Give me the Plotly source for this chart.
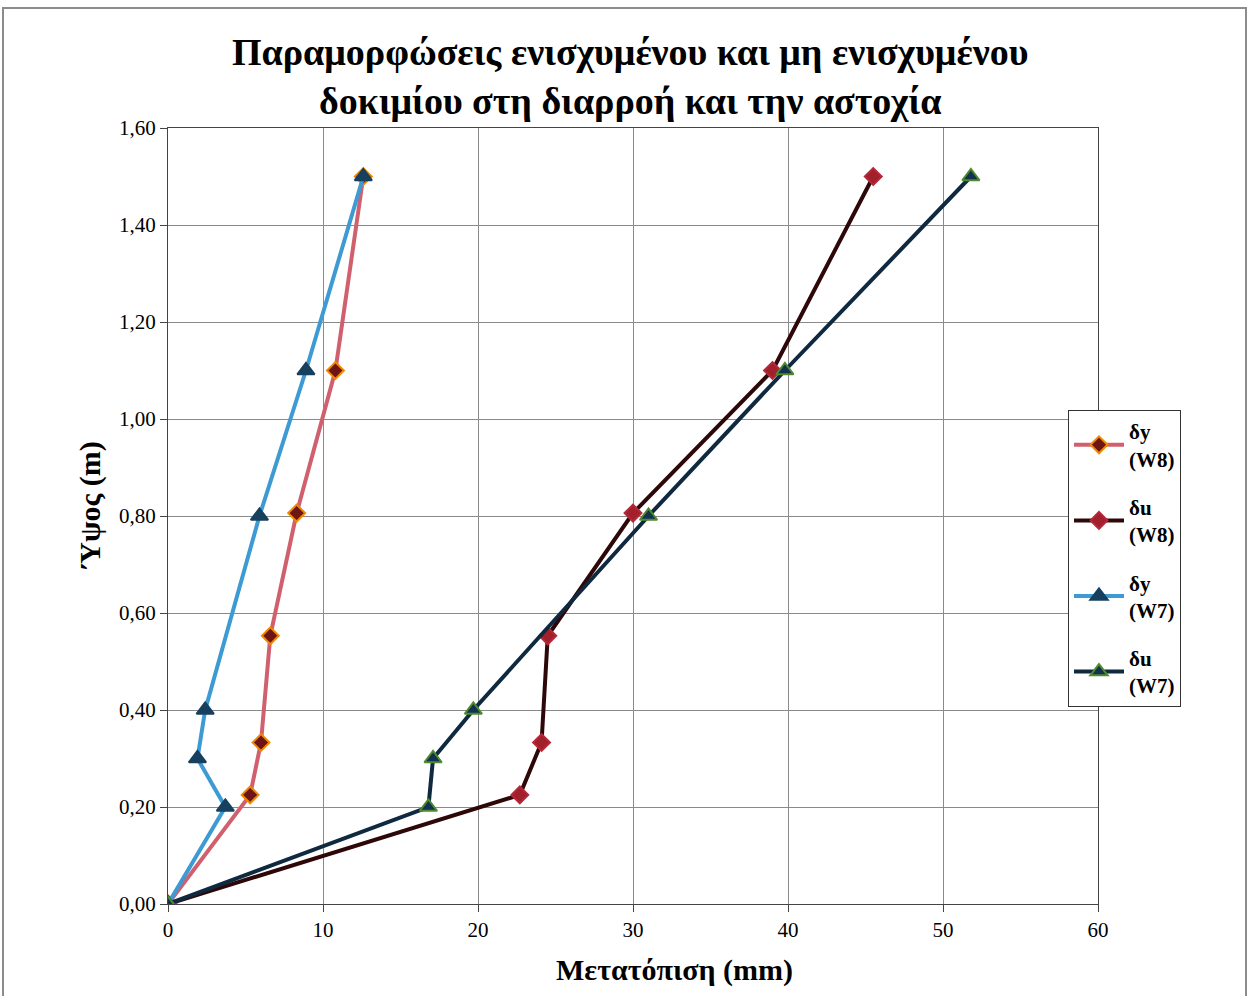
import plotly.graph_objects as go

# Heights (m) of the measurement points
height_w8 = [0.0, 0.225, 0.333, 0.553, 0.806, 1.10, 1.50]
height_w7 = [0.0, 0.20, 0.30, 0.40, 0.80, 1.10, 1.50]

# Displacements (mm)
dy_w8 = [0.0, 5.3, 6.0, 6.6, 8.3, 10.8, 12.6]
du_w8 = [0.0, 22.7, 24.1, 24.5, 30.0, 39.0, 45.5]
dy_w7 = [0.0, 3.7, 1.9, 2.4, 5.9, 8.9, 12.6]
du_w7 = [0.0, 16.8, 17.1, 19.7, 31.0, 39.8, 51.8]

series_names = ["δy<br>(W8)", "δu<br>(W8)", "δy<br>(W7)", "δu<br>(W7)"]
chart_title = "<b>Παραμορφώσεις ενισχυμένου και μη ενισχυμένου<br>δοκιμίου στη διαρροή και την αστοχία</b>"
x_title = "<b>Μετατόπιση (mm)</b>"
y_title = "<b>Ύψος (m)</b>"

SERIF = "Liberation Serif, Times New Roman, serif"

fig = go.Figure()

styles = [
    (dy_w8, height_w8, "#D0606E", "diamond", "#6E1616", "#F08A00"),
    (du_w8, height_w8, "#2E0808", "diamond", "#A2202C", "#B4283A"),
    (dy_w7, height_w7, "#3D9AD2", "triangle-up", "#17405E", "#17405E"),
    (du_w7, height_w7, "#0F2940", "triangle-up", "#143250", "#4E8A2E"),
]

for i, (name, (xs, ys, lc, sym, mc, mlc)) in enumerate(zip(series_names, styles)):
    fig.add_trace(go.Scatter(
        x=xs, y=ys, name=f"<b>{name}</b>", mode="lines+markers",
        legendgroup=f"g{i}",
        line=dict(color=lc, width=4),
        marker=dict(symbol=sym, size=13 if sym == "diamond" else 15, color=mc,
                    line=dict(color=mlc, width=2)),
    ))

W, H = 1249, 996
L, R, T, B = 168, 151, 128, 92
pw, ph = W - L - R, H - T - B


def px_x(p):
    return (p - L) / pw


def px_y(p):
    return (H - B - p) / ph


# Outer chart frame
fig.add_shape(type="rect", xref="paper", yref="paper",
              x0=px_x(3), x1=px_x(1246), y0=px_y(1000), y1=px_y(8),
              line=dict(color="#8C8C8C", width=2), layer="below")

# Two-line chart heading
fig.add_annotation(
    text=chart_title, xref="paper", yref="paper",
    x=px_x(630), y=px_y(76), xanchor="center", yanchor="middle",
    showarrow=False, align="center",
    font=dict(size=38, family=SERIF, color="black"),
)

# Axis titles
fig.add_annotation(
    text=x_title, xref="paper", yref="paper",
    x=px_x(674), y=px_y(970), xanchor="center", yanchor="middle",
    showarrow=False, font=dict(size=30, family=SERIF, color="black"),
)
fig.add_annotation(
    text=y_title, xref="paper", yref="paper", textangle=-90,
    x=px_x(90), y=px_y(505), xanchor="center", yanchor="middle",
    showarrow=False, font=dict(size=30, family=SERIF, color="black"),
)

fig.update_layout(
    width=W, height=H,
    margin=dict(l=L, r=R, t=T, b=B),
    paper_bgcolor="white", plot_bgcolor="white",
    separators=",.",
    font=dict(family=SERIF, color="black"),
    xaxis=dict(
        range=[0, 60], dtick=10, showgrid=True, gridcolor="#8A8A8A", gridwidth=1,
        showline=True, linecolor="#444444", linewidth=1, mirror=True,
        ticks="outside", ticklen=7, tickcolor="#444444",
        tickfont=dict(size=21, family=SERIF), zeroline=False,
    ),
    yaxis=dict(
        range=[0, 1.6], dtick=0.2, tickformat=".2f", showgrid=True, gridcolor="#8A8A8A", gridwidth=1,
        showline=True, linecolor="#444444", linewidth=1, mirror=True,
        ticks="outside", ticklen=7, tickcolor="#444444",
        tickfont=dict(size=21, family=SERIF), zeroline=False,
    ),
    legend=dict(
        x=px_x(1068), y=px_y(410), xanchor="left", yanchor="top",
        bordercolor="#333333", borderwidth=1, bgcolor="white",
        font=dict(size=21, family=SERIF),
        tracegroupgap=18, itemwidth=50,
    ),
    showlegend=True,
)

fig.write_html("out.html")
